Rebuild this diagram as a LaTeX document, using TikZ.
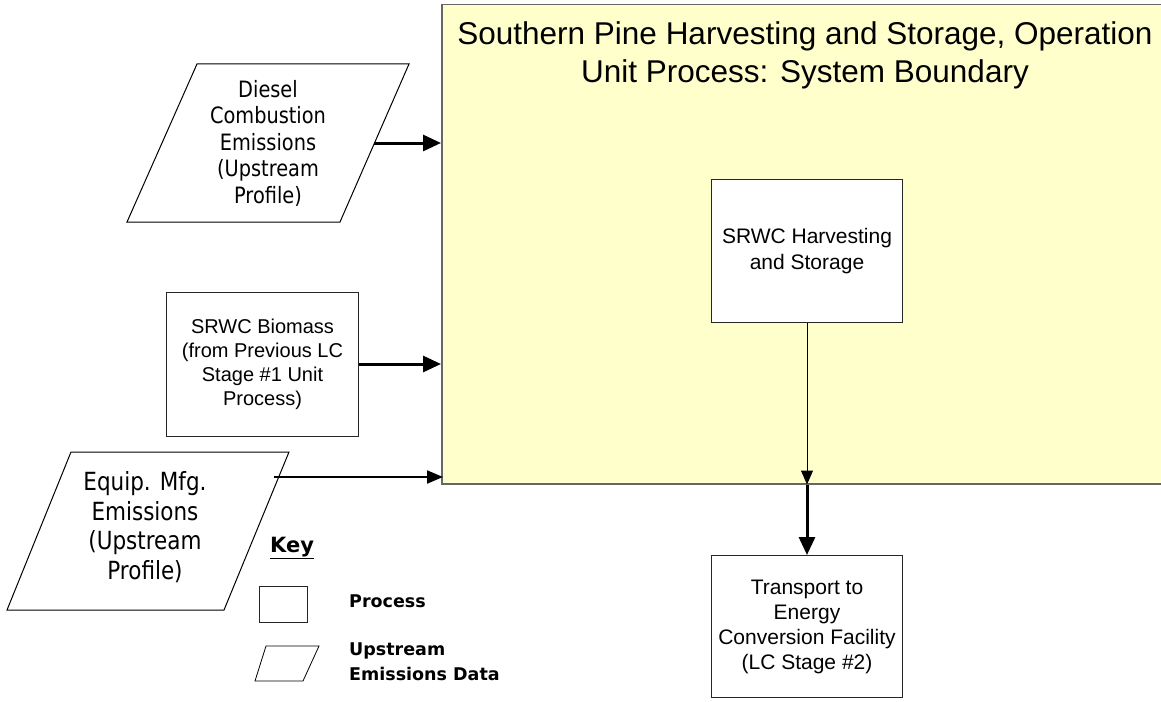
\documentclass[tikz,border=0pt]{standalone}
\usepackage{fontspec}
\setmainfont{Liberation Sans}
\newfontfamily\tah{DejaVu Sans}[FakeStretch=0.86]
\newfontfamily\keyf{DejaVu Sans}
\usetikzlibrary{arrows.meta}
\definecolor{bndfill}{HTML}{FFFFCC}
\definecolor{bndline}{HTML}{666666}
\begin{document}
\begin{tikzpicture}[x=1pt,y=-1pt,
  procbox/.style={draw=black!85, line width=1pt, fill=white, inner sep=0pt, anchor=north west},
  para/.style={draw=black, line width=1pt, fill=white, line join=miter},
  txt/.style={inner sep=0pt, align=center},
  thick arrow/.style={line width=3pt, -{Triangle[length=18pt,width=16pt]}},
  mid arrow/.style={line width=2pt, -{Triangle[length=16pt,width=13pt]}},
  thin arrow/.style={line width=1pt, -{Triangle[length=14pt,width=12pt]}}]
\useasboundingbox (0,0) rectangle (1161,701);
\clip (0,0) rectangle (1161,701);
\fill[white] (0,0) rectangle (1161,701);

% system boundary
\node[draw=bndline, line width=1.5pt, fill=bndfill, inner sep=0pt, anchor=north west,
      minimum width=740pt, minimum height=479pt] (sys) at (441,4) {};
\node[txt, anchor=north, font=\fontsize{31.5}{38}\selectfont] (title) at (805,21)
  {Southern Pine Harvesting and Storage, Operation\\Unit Process: System Boundary};

% inner process
\node[procbox, minimum width=191pt, minimum height=143pt] (harv) at (711,179) {};
\node[txt, font=\fontsize{21}{26}\selectfont] (harvt) at (harv.center) {SRWC Harvesting\\and Storage};

% transport
\node[procbox, minimum width=191pt, minimum height=142pt] (trans) at (711,555) {};
\node[txt, font=\fontsize{21}{25}\selectfont] (transt) at (trans.center)
  {Transport to\\Energy\\Conversion Facility\\(LC Stage \#2)};

% biomass
\node[procbox, minimum width=192pt, minimum height=144pt] (bio) at (166,292) {};
\node[txt, font=\fontsize{20}{24}\selectfont] (biot) at (bio.center)
  {SRWC Biomass\\(from Previous LC\\Stage \#1 Unit\\Process)};

% diesel parallelogram
\draw[para] (127,222) -- (340,222) -- (409,64) -- (197,64) -- cycle;
\node[txt, font=\tah\fontsize{22.5}{26.5}\selectfont] (diesel) at (268,143)
  {Diesel\\Combustion\\Emissions\\(Upstream\\Profile)};
\coordinate (dieselE) at (374,143);

% equip parallelogram
\draw[para] (7,610) -- (224,610) -- (289,452) -- (71,452) -- cycle;
\node[txt, font=\tah\fontsize{25}{29.7}\selectfont] (equip) at (145,527)
  {Equip. Mfg.\\Emissions\\(Upstream\\Profile)};
\coordinate (equipE) at (274,477);

% key
\node[anchor=west, inner sep=0pt, font=\keyf\bfseries\fontsize{21}{25}\selectfont] (key) at (270,548) {\underline{Key}};
\node[procbox, minimum width=48pt, minimum height=36pt, line width=0.8pt] (kproc) at (259,586) {};
\node[anchor=west, inner sep=0pt, font=\keyf\bfseries\fontsize{17.5}{21}\selectfont] (kproct) at (349,601) {Process};
\draw[para, line width=0.8pt] (255,681) -- (303,681) -- (319,646) -- (266,646) -- cycle;
\node[anchor=north west, inner sep=0pt, align=left, font=\keyf\bfseries\fontsize{17.5}{25}\selectfont] (kpart) at (349,643)
  {Upstream\\Emissions Data};

% connectors
\draw[thick arrow] (dieselE) -- (dieselE -| sys.west);
\draw[thick arrow] (bio.east |- 0,364) -- (sys.west |- 0,364);
\draw[mid arrow] (equipE) -- ([xshift=2pt]sys.west |- equipE);
\draw[thin arrow] (harv.south) -- (harv.south |- sys.south);
\draw[thick arrow] (harv.south |- sys.south) -- (trans.north);
\end{tikzpicture}
\end{document}
